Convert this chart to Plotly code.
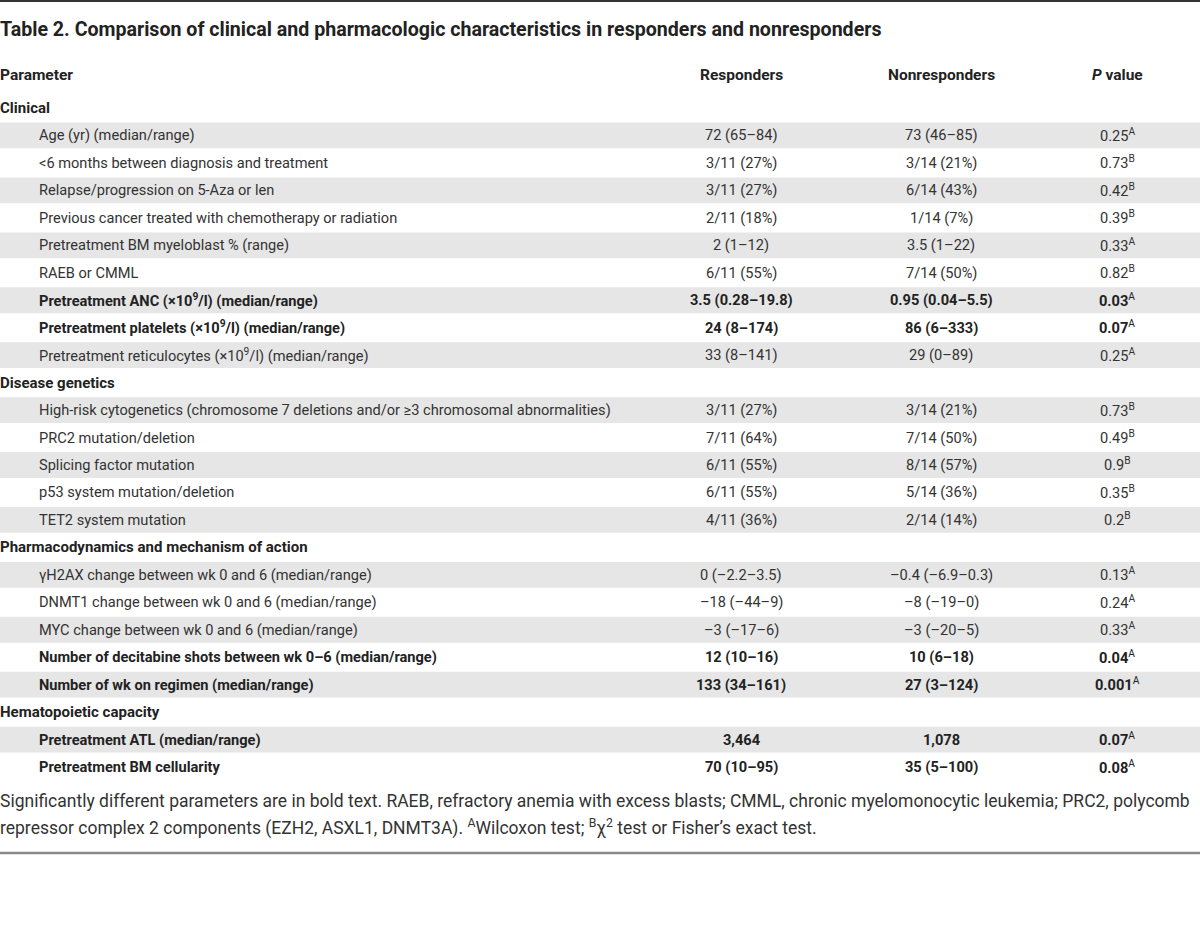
import plotly.graph_objects as go

title = "Table 2. Comparison of clinical and pharmacologic characteristics in responders and nonresponders"
headers = ["Parameter", "Responders", "Nonresponders", "<i>P</i> value"]

params = [
    "Clinical",
    "Age (yr) (median/range)",
    "&lt;6 months between diagnosis and treatment",
    "Relapse/progression on 5-Aza or len",
    "Previous cancer treated with chemotherapy or radiation",
    "Pretreatment BM myeloblast % (range)",
    "RAEB or CMML",
    "Pretreatment ANC (×10<sup>9</sup>/l) (median/range)",
    "Pretreatment platelets (×10<sup>9</sup>/l) (median/range)",
    "Pretreatment reticulocytes (×10<sup>9</sup>/l) (median/range)",
    "Disease genetics",
    "High-risk cytogenetics (chromosome 7 deletions and/or ≥3 chromosomal abnormalities)",
    "PRC2 mutation/deletion",
    "Splicing factor mutation",
    "p53 system mutation/deletion",
    "TET2 system mutation",
    "Pharmacodynamics and mechanism of action",
    "γH2AX change between wk 0 and 6 (median/range)",
    "DNMT1 change between wk 0 and 6 (median/range)",
    "MYC change between wk 0 and 6 (median/range)",
    "Number of decitabine shots between wk 0–6 (median/range)",
    "Number of wk on regimen (median/range)",
    "Hematopoietic capacity",
    "Pretreatment ATL (median/range)",
    "Pretreatment BM cellularity",
]
is_section = [True, False, False, False, False, False, False, False, False, False,
              True, False, False, False, False, False,
              True, False, False, False, False, False,
              True, False, False]
responders = ["", "72 (65–84)", "3/11 (27%)", "3/11 (27%)", "2/11 (18%)", "2 (1–12)", "6/11 (55%)",
              "3.5 (0.28–19.8)", "24 (8–174)", "33 (8–141)",
              "", "3/11 (27%)", "7/11 (64%)", "6/11 (55%)", "6/11 (55%)", "4/11 (36%)",
              "", "0 (–2.2–3.5)", "–18 (–44–9)", "–3 (–17–6)", "12 (10–16)", "133 (34–161)",
              "", "3,464", "70 (10–95)"]
nonresponders = ["", "73 (46–85)", "3/14 (21%)", "6/14 (43%)", "1/14 (7%)", "3.5 (1–22)", "7/14 (50%)",
                 "0.95 (0.04–5.5)", "86 (6–333)", "29 (0–89)",
                 "", "3/14 (21%)", "7/14 (50%)", "8/14 (57%)", "5/14 (36%)", "2/14 (14%)",
                 "", "–0.4 (–6.9–0.3)", "–8 (–19–0)", "–3 (–20–5)", "10 (6–18)", "27 (3–124)",
                 "", "1,078", "35 (5–100)"]
pvalues = ["", "0.25", "0.73", "0.42", "0.39", "0.33", "0.82", "0.03", "0.07", "0.25",
           "", "0.73", "0.49", "0.9", "0.35", "0.2",
           "", "0.13", "0.24", "0.33", "0.04", "0.001",
           "", "0.07", "0.08"]
tests = ["", "A", "B", "B", "B", "A", "B", "A", "A", "A",
         "", "B", "B", "B", "B", "B",
         "", "A", "A", "A", "A", "A",
         "", "A", "A"]
bold_rows = [7, 8, 20, 21, 23, 24]

footnote = [
    "Significantly different parameters are in bold text. RAEB, refractory anemia with excess blasts; "
    "CMML, chronic myelomonocytic leukemia; PRC2, polycomb",
    "repressor complex 2 components (EZH2, ASXL1, DNMT3A). <sup>A</sup>Wilcoxon test; "
    "<sup>B</sup>χ<sup>2</sup> test or Fisher’s exact test.",
]

FONT = "Roboto"
W, H = 1200, 936
ROW0_PX, PITCH = 108, 27.46
y_top = (0 - ROW0_PX) / PITCH
y_bot = (H - ROW0_PX) / PITCH


def py(px):
    return (px - ROW0_PX) / PITCH


col_x = [37, 741, 941, 1117]
BODY = 14.6
HEAD = 15.5
TXT = "#333333"
BOLDC = "#222222"

fig = go.Figure()
shapes = []
ann = []

# shaded bands
item_idx = 0
for i, sec in enumerate(is_section):
    if sec:
        item_idx = 0
        continue
    item_idx += 1
    if item_idx % 2 == 1:
        shapes.append(dict(type="rect", xref="paper", yref="y", x0=0, x1=1,
                           y0=i - 0.47, y1=i + 0.47, fillcolor="#e6e6e6",
                           line=dict(width=0), layer="below"))

# rules
shapes.append(dict(type="line", xref="paper", yref="y", x0=0, x1=1, y0=py(1), y1=py(1),
                   line=dict(color="#333333", width=2)))
shapes.append(dict(type="line", xref="paper", yref="y", x0=0, x1=1, y0=py(853), y1=py(853),
                   line=dict(color="#888888", width=2.5)))

# title
ann.append(dict(x=0, xshift=-2, y=py(29), xref="x", yref="y", text="<b>" + title + "</b>",
                showarrow=False, xanchor="left", yanchor="middle",
                font=dict(family=FONT, size=19.6, color=BOLDC)))
# headers
for j, h in enumerate(headers):
    ann.append(dict(x=(0 if j == 0 else col_x[j]), xshift=(-2 if j == 0 else 0),
                    y=py(75), xref="x", yref="y",
                    text="<b>" + h + "</b>", showarrow=False,
                    xanchor="left" if j == 0 else "center", yanchor="middle",
                    font=dict(family=FONT, size=HEAD, color=BOLDC)))

for i in range(len(params)):
    if is_section[i]:
        ann.append(dict(x=0, xshift=-2, y=i, xref="x", yref="y", text="<b>" + params[i] + "</b>",
                        showarrow=False, xanchor="left", yanchor="middle",
                        font=dict(family=FONT, size=15, color=BOLDC)))
        continue
    b = i in bold_rows

    def fmt(s):
        return "<b>" + s + "</b>" if b else s
    col = BOLDC if b else TXT
    ann.append(dict(x=col_x[0], y=i, xref="x", yref="y", text=fmt(params[i]),
                    showarrow=False, xanchor="left", yanchor="middle",
                    font=dict(family=FONT, size=BODY, color=col)))
    ann.append(dict(x=col_x[1], y=i, xref="x", yref="y", text=fmt(responders[i]),
                    showarrow=False, xanchor="center", yanchor="middle",
                    font=dict(family=FONT, size=BODY, color=col)))
    ann.append(dict(x=col_x[2], y=i, xref="x", yref="y", text=fmt(nonresponders[i]),
                    showarrow=False, xanchor="center", yanchor="middle",
                    font=dict(family=FONT, size=BODY, color=col)))
    ann.append(dict(x=col_x[3], y=i, xref="x", yref="y",
                    text=fmt(pvalues[i]) + "<sup>" + tests[i] + "</sup>",
                    showarrow=False, xanchor="center", yanchor="middle",
                    font=dict(family=FONT, size=BODY, color=col)))

for k, line in enumerate(footnote):
    ann.append(dict(x=0, xshift=-2, y=py(801 + 26.5 * k), xref="x", yref="y", text=line,
                    showarrow=False, xanchor="left", yanchor="middle",
                    font=dict(family=FONT, size=17.5, color=TXT)))

fig.update_layout(
    width=W, height=H, autosize=False,
    margin=dict(l=0, r=0, t=0, b=0, pad=0),
    paper_bgcolor="white", plot_bgcolor="white",
    xaxis=dict(range=[0, W], visible=False, fixedrange=True),
    yaxis=dict(range=[y_bot, y_top], visible=False, fixedrange=True),
    shapes=shapes, annotations=ann, showlegend=False,
)
fig.write_html(
    "out.html",
    default_width="1200px", default_height="936px",
    config={"responsive": False, "displayModeBar": False},
    post_script="document.body.style.margin='0';document.body.style.padding='0';",
)
